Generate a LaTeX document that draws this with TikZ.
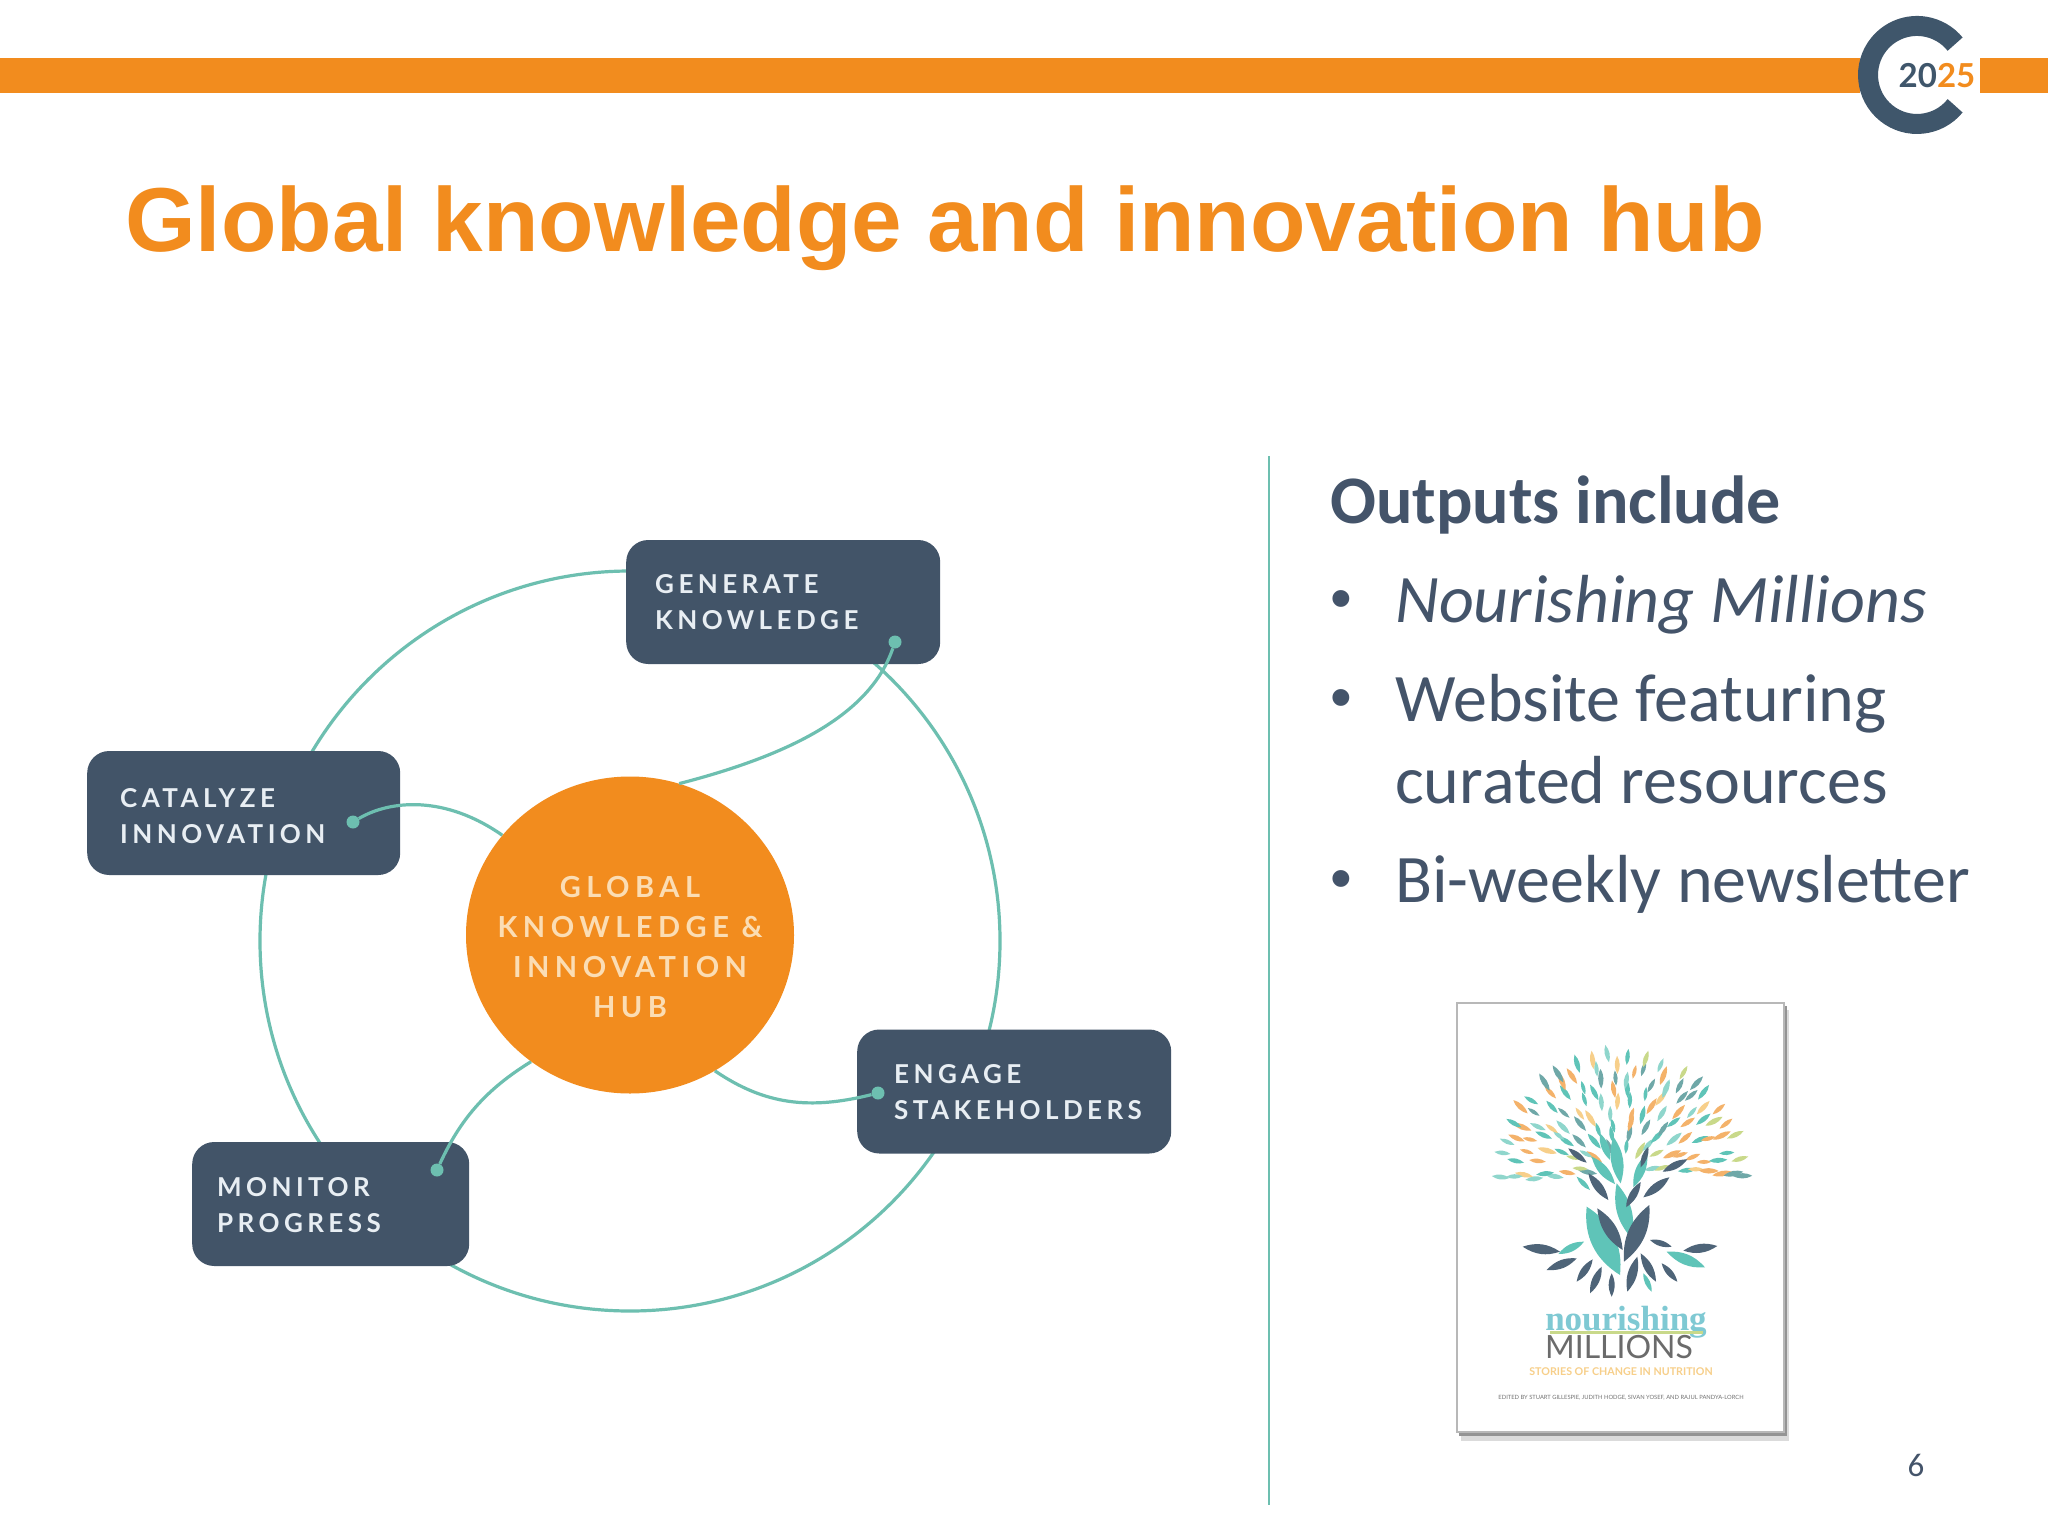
\documentclass[tikz,border=0pt]{standalone}
\usepackage{fontspec}
\usetikzlibrary{shapes.geometric}
\setmainfont{Carlito}
\newfontfamily\titlefont{Liberation Sans}
\newfontfamily\boxfont[LetterSpace=17]{Lato}
\newfontfamily\hubfont[LetterSpace=19]{Lato}
\newfontfamily\logofont{Lato}
\newfontfamily\coverserif{Liberation Serif}
\definecolor{brandorange}{HTML}{F28C1E}
\definecolor{slate}{HTML}{44546A}
\definecolor{boxslate}{HTML}{425468}
\definecolor{logoslate}{HTML}{3F566B}
\definecolor{teal}{HTML}{6DBFB0}
\definecolor{hubtext}{HTML}{FBDDB4}
\definecolor{boxtext}{HTML}{E8EEF3}
\definecolor{leafa}{HTML}{5FC4B8}
\definecolor{leafb}{HTML}{4E6478}
\definecolor{leafc}{HTML}{F4B26A}
\definecolor{leafd}{HTML}{C9D98A}
\definecolor{leafe}{HTML}{8FD6CC}
\definecolor{leaff}{HTML}{F7CF8A}
\definecolor{leafg}{HTML}{6FA8A8}
\definecolor{covertitlec}{HTML}{7FC9D3}
\pgfmathdeclarerandomlist{leafcols}{{leafa}{leafg}{leafc}{leafd}{leafe}{leaff}{leafg}{leafa}{leafc}{leafe}}
\tikzset{
  ring/.style={circle,draw=teal,line width=3.2pt,minimum size=740pt,inner sep=0pt},
  hubnode/.style={ellipse,fill=brandorange,minimum width=328pt,minimum height=317pt,inner sep=0pt},
  hublabel/.style={inner sep=0pt,text=hubtext,align=center,font=\hubfont\bfseries\fontsize{29}{39.7}\selectfont},
  boxnode/.style={rounded corners=22pt,fill=boxslate,text=boxtext,align=left,minimum height=124pt,inner ysep=0pt,anchor=west,
    font=\boxfont\bfseries\fontsize{26}{36}\selectfont},
  link/.style={draw=teal,line width=3.2pt},
  linkdot/.style={circle,fill=teal,minimum size=13pt,inner sep=0pt},
  bodytext/.style={anchor=base west,text=slate,inner sep=0pt,font=\fontsize{68}{68}\selectfont},
  bulletmark/.style={anchor=base west,text=slate,inner sep=0pt,font=\titlefont\fontsize{62}{62}\selectfont},
}
\newcommand{\lensleaf}[4][26]{\fill[#2] (#3) to[bend left=#1] (#4) to[bend left=#1] (#3);}
\begin{document}
\begin{tikzpicture}[x=1pt,y=-1pt]
\useasboundingbox (0,0) rectangle (2048,1536);
\fill[white] (0,0) rectangle (2048,1536);
% top band
\fill[brandorange] (0,58) rectangle (2048,93);
\fill[white] (1860,50) rectangle (1980,100);
\draw[logoslate,line width=20pt] (1955.1,105.8) arc[start angle=39,end angle=321,radius=49];
\node[inner sep=0pt,anchor=center,font=\logofont\bfseries\fontsize{33}{33}\selectfont] (logotext) at (1937,76) {\textcolor{logoslate}{20}\textcolor{brandorange}{25}};
% title
\node[anchor=base west,inner sep=0pt,text=brandorange,font=\titlefont\bfseries\fontsize{90.8}{90.8}\selectfont] (title) at (125,251) {Global knowledge and innovation hub};
% diagram
\node[ring] (ring) at (630,941) {};
\node[hubnode] (hub) at (630,935) {};
\node[hublabel] (hubtext) at (630,947) {GLOBAL\\KNOWLEDGE \&\\INNOVATION\\HUB};
\node[boxnode,minimum width=314pt,text width=256pt,inner xsep=28pt] (gen) at (626,602) {GENERATE\\KNOWLEDGE};
\node[boxnode,minimum width=313pt,text width=247pt,inner xsep=32pt] (cat) at (87,813) {\rule{0pt}{25pt}CATALYZE\\INNOVATION};
\node[boxnode,minimum width=277pt,text width=227pt,inner xsep=24pt] (mon) at (192,1204) {\rule{0pt}{21pt}MONITOR\\PROGRESS};
\node[boxnode,minimum width=314pt,text width=240pt,inner xsep=37pt] (eng) at (857,1091.5) {\rule{0pt}{21pt}ENGAGE\\STAKEHOLDERS};
\node[linkdot] (dotgen) at (895,642) {};
\node[linkdot] (dotcat) at (353,822) {};
\node[linkdot] (dotmon) at (437,1170) {};
\node[linkdot] (doteng) at (878,1093) {};
\draw[link] (dotgen) .. controls (870,715) and (790,755) .. (hub.72);
\draw[link] (dotcat) .. controls (390,800) and (445,795) .. (hub.142);
\draw[link] (dotmon) .. controls (460,1120) and (485,1090) .. (hub.232);
\draw[link] (doteng) .. controls (810,1110) and (765,1105) .. (hub.302);
% divider
\coordinate (divtop) at (1269,456);
\coordinate (divbot) at (1269,1505);
\draw[teal,line width=2pt] (divtop) -- (divbot);
% right text
\node[bodytext,font=\bfseries\fontsize{68}{68}\selectfont] (outputs) at (1330,523) {Outputs include};
\node[bulletmark] (bul1) at (1330,619) {•};
\node[bodytext] (t1) at (1395,622) {\itshape Nourishing Millions};
\node[bulletmark] (bul2) at (1330,718) {•};
\node[bodytext] (t2) at (1395,721) {Website featuring};
\node[bodytext] (t3) at (1395,803.5) {curated resources};
\node[bulletmark] (bul3) at (1330,899) {•};
\node[bodytext] (t4) at (1395,902) {Bi-weekly newsletter};
\node[anchor=center,inner sep=0pt,text=slate,font=\fontsize{33}{33}\selectfont] (pagenum) at (1916,1465) {6};
% book cover
\fill[black!14] (1461,1010) rectangle (1789,1441);
\fill[black!42] (1459,1006) rectangle (1787,1436);
\draw[fill=white,draw=black!28,line width=1.5pt] (1457,1003) rectangle (1784,1432);
% canopy leaves
\pgfmathsetseed{2025}
\foreach \rad/\cnt in {24/6,35/8,46/10,57/12,68/14,79/16,90/18,101/20,112/22}{
  \foreach \i in {1,...,\cnt}{
    \pgfmathsetmacro{\ang}{-3+186*(\i-0.8+0.6*rnd)/\cnt}
    \pgfmathsetmacro{\rr}{\rad*(0.97+0.05*rnd)}
    \pgfmathsetmacro{\ln}{14+6*rnd}
    \pgfmathsetmacro{\sl}{-12+24*rnd}
    \pgfmathsetmacro{\xa}{1621+\rr*cos(\ang)}
    \pgfmathsetmacro{\ya}{1178-1.02*\rr*sin(\ang)}
    \pgfmathsetmacro{\xb}{\xa+\ln*cos(\ang+\sl)}
    \pgfmathsetmacro{\yb}{\ya-\ln*sin(\ang+\sl)}
    \pgfmathrandomitem{\leafcol}{leafcols}
    \fill[\leafcol] (\xa,\ya) to[bend left=28] (\xb,\yb) to[bend left=28] (\xa,\ya);
  }
}
% trunk and roots, coordinates read in a 3x crop
\begin{scope}[x=0.33333pt,y=-0.33333pt,shift={(1400pt,-980pt)}]
\lensleaf[32]{leafa}{560,680}{660,885}
\lensleaf{leafb}{592,685}{668,810}
\lensleaf{leafa}{650,610}{695,775}
\lensleaf[28]{leafb}{748,675}{672,845}
\lensleaf{leafb}{712,830}{682,935}
\lensleaf{leafb}{635,880}{635,950}
\lensleaf{leafb}{605,860}{570,940}
\lensleaf{leafb}{578,838}{530,905}
\lensleaf{leafb}{530,835}{440,870}
\lensleaf{leafb}{480,815}{368,800}
\lensleaf{leafa}{552,785}{475,822}
\lensleaf{leafb}{722,820}{768,905}
\lensleaf{leafa}{730,880}{755,935}
\lensleaf{leafb}{785,850}{832,905}
\lensleaf{leafa}{800,815}{915,862}
\lensleaf{leafb}{750,780}{815,800}
\lensleaf{leafb}{850,812}{952,798}
\lensleaf{leafb}{565,580}{625,660}
\lensleaf{leafb}{505,505}{560,548}
\lensleaf{leafa}{530,590}{570,630}
\lensleaf{leafa}{575,530}{645,612}
\lensleaf{leafb}{730,652}{808,592}
\lensleaf{leafb}{678,682}{722,606}
\lensleaf{leafa}{640,470}{662,610}
\lensleaf{leafa}{700,622}{742,520}
\lensleaf{leafb}{788,575}{862,538}
\lensleaf{leafb}{722,562}{745,500}
\lensleaf{leafa}{600,460}{630,540}
\lensleaf{leafa}{655,640}{680,690}
\end{scope}
% cover texts
\node[anchor=base,inner sep=0pt,text=covertitlec,font=\coverserif\bfseries\fontsize{35}{35}\selectfont] (covertitle) at (1626,1330) {nourishing};
\fill[leafd] (1550,1331) rectangle (1703,1334);
\node[anchor=base,inner sep=0pt,text=black!58,font=\logofont\fontsize{32}{32}\selectfont] (covermillions) at (1619,1358) {MILLIONS};
\node[anchor=base,inner sep=0pt,text=leaff,font=\logofont\bfseries\fontsize{10.7}{10.7}\selectfont] (coversub) at (1621,1375) {STORIES OF CHANGE IN NUTRITION};
\node[anchor=base,inner sep=0pt,text=black!55,font=\logofont\fontsize{5.8}{5.8}\selectfont] (coverauth) at (1621,1399) {EDITED BY STUART GILLESPIE, JUDITH HODGE, SIVAN YOSEF, AND RAJUL PANDYA-LORCH};
\end{tikzpicture}
\end{document}
